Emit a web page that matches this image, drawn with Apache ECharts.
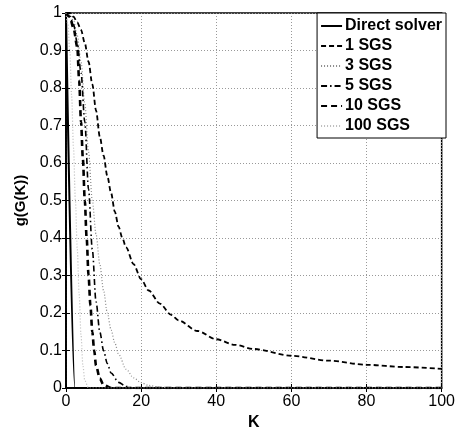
<!DOCTYPE html>
<html>
<head>
<meta charset="utf-8">
<script src="https://cdn.jsdelivr.net/npm/echarts@6/dist/echarts.min.js"></script>
<style>html,body{margin:0;padding:0;background:#fff}#c{width:458px;height:436px}</style>
</head>
<body>
<div id="c"></div>
<script>
var seriesNames = ['Direct solver', '1 SGS', '3 SGS', '5 SGS', '10 SGS', '100 SGS'];
var xTicks = [0, 20, 40, 60, 80, 100];
var yTicks = [0, 0.1, 0.2, 0.3, 0.4, 0.5, 0.6, 0.7, 0.8, 0.9, 1];

var directK = [0, 2.4, 100];
var directV = [1, 0, 0];

var sgs1K = [0, 1, 2, 3, 4, 5, 6, 7, 8, 9, 10, 11, 12, 13, 14, 15, 16, 18, 20, 22, 25, 28, 30, 35, 40, 45, 50, 60, 70, 80, 90, 100];
var sgs1V = [1, 1, 0.99, 0.975, 0.955, 0.92, 0.87, 0.81, 0.74, 0.67, 0.62, 0.565, 0.52, 0.47, 0.43, 0.4, 0.375, 0.33, 0.29, 0.26, 0.225, 0.195, 0.18, 0.152, 0.13, 0.115, 0.104, 0.086, 0.073, 0.062, 0.056, 0.051];

var sgs3K = [0, 1, 2, 3, 4, 5, 6, 7, 8, 9, 10, 11, 12, 13, 14, 16, 18, 20, 22, 25, 30, 100];
var sgs3V = [1, 0.995, 0.98, 0.94, 0.87, 0.76, 0.63, 0.5, 0.41, 0.33, 0.26, 0.2, 0.155, 0.12, 0.09, 0.05, 0.027, 0.014, 0.007, 0.002, 0, 0];

var sgs5K = [0, 1, 2, 3, 4, 5, 6, 7, 8, 9, 10, 11, 12, 14, 16, 18, 100];
var sgs5V = [1, 0.99, 0.97, 0.92, 0.84, 0.71, 0.53, 0.37, 0.23, 0.15, 0.1, 0.065, 0.04, 0.015, 0.004, 0, 0];

var sgs10K = [0, 1, 2, 3, 3.5, 4, 4.5, 5, 5.5, 6, 6.5, 7, 7.5, 8, 9, 10, 12, 100];
var sgs10V = [1, 0.99, 0.96, 0.91, 0.82, 0.71, 0.61, 0.5, 0.4, 0.3, 0.22, 0.15, 0.1, 0.06, 0.025, 0.008, 0, 0];

var sgs100K = [0, 0.5, 1, 1.5, 2, 2.5, 3, 3.5, 4, 4.5, 5, 6, 100];
var sgs100V = [1, 0.97, 0.9, 0.78, 0.64, 0.5, 0.37, 0.25, 0.14, 0.06, 0.02, 0, 0];

function pairs(k, v) { return k.map(function (x, i) { return [x, v[i]]; }); }

var FONT = 'Liberation Sans, Arial, sans-serif';
var chart = echarts.init(document.getElementById('c'), null, { renderer: 'canvas' });

function mkSeries(name, k, v, color, width, type) {
  return {
    name: name, type: 'line', data: pairs(k, v), symbol: 'none', showSymbol: false,
    smooth: 0.3, smoothMonotone: 'x', animation: false,
    lineStyle: { color: color, width: width, type: type }, itemStyle: { color: color }
  };
}

var option = {
  animation: false,
  backgroundColor: '#fff',
  grid: { left: 66, right: 12, top: 13, bottom: 44, show: true, borderColor: '#000', borderWidth: 1.5, backgroundColor: 'transparent' },
  legend: {
    data: seriesNames,
    orient: 'vertical', right: 12, top: 13,
    backgroundColor: '#fff', borderColor: '#000', borderWidth: 1,
    padding: [5, 4, 4, 3], itemGap: 4, itemWidth: 21, itemHeight: 14,
    itemStyle: { opacity: 0 },
    textStyle: { fontFamily: FONT, fontWeight: 'bold', fontSize: 16, color: '#000', padding: [0, 0, 0, -2] }
  },
  xAxis: [{
    type: 'value', min: 0, max: 100, interval: 20, position: 'bottom',
    name: 'K', nameLocation: 'middle', nameGap: 27,
    nameTextStyle: { fontFamily: FONT, fontWeight: 'bold', fontSize: 16, color: '#000' },
    axisLine: { show: true, lineStyle: { color: '#000', width: 1.5 } },
    axisTick: { show: true, inside: true, length: 4, lineStyle: { color: '#000' } },
    axisLabel: { fontFamily: FONT, fontSize: 16, color: '#000', margin: 6 },
    splitLine: { show: true, lineStyle: { color: '#999', width: 1, type: [1, 2] } }
  }, {
    type: 'value', min: 0, max: 100, interval: 20, position: 'top',
    axisLine: { show: true, lineStyle: { color: '#000', width: 1.5 } },
    axisTick: { show: true, inside: true, length: 4, lineStyle: { color: '#000' } },
    axisLabel: { show: false }, splitLine: { show: false }
  }],
  yAxis: [{
    type: 'value', min: 0, max: 1, interval: 0.1, position: 'left',
    name: 'g(G(K))', nameLocation: 'middle', nameGap: 30, nameRotate: 90,
    nameTextStyle: { fontFamily: FONT, fontWeight: 'bold', fontSize: 15, color: '#000' },
    axisLine: { show: true, lineStyle: { color: '#000', width: 1.5 } },
    axisTick: { show: true, inside: true, length: 4, lineStyle: { color: '#000' } },
    axisLabel: { fontFamily: FONT, fontSize: 16, color: '#000', margin: 4,
      formatter: function (v) { var r = Math.round(v * 10) / 10; return yTicks.indexOf(r) >= 0 ? String(r) : ''; } },
    splitLine: { show: true, lineStyle: { color: '#999', width: 1, type: [1, 2] } }
  }, {
    type: 'value', min: 0, max: 1, interval: 0.1, position: 'right',
    axisLine: { show: true, lineStyle: { color: '#000', width: 1.5 } },
    axisTick: { show: true, inside: true, length: 4, lineStyle: { color: '#000' } },
    axisLabel: { show: false }, splitLine: { show: false }
  }],
  series: [
    mkSeries(seriesNames[0], directK, directV, '#000', 2, 'solid'),
    mkSeries(seriesNames[1], sgs1K, sgs1V, '#000', 1.8, [5, 3]),
    mkSeries(seriesNames[2], sgs3K, sgs3V, '#888', 1.2, [1, 2]),
    mkSeries(seriesNames[3], sgs5K, sgs5V, '#000', 1.6, [6, 3, 1.5, 3]),
    mkSeries(seriesNames[4], sgs10K, sgs10V, '#000', 2.6, [6, 4]),
    mkSeries(seriesNames[5], sgs100K, sgs100V, '#bbb', 1.2, [1, 2])
  ]
};
chart.setOption(option);
</script>
</body>
</html>
